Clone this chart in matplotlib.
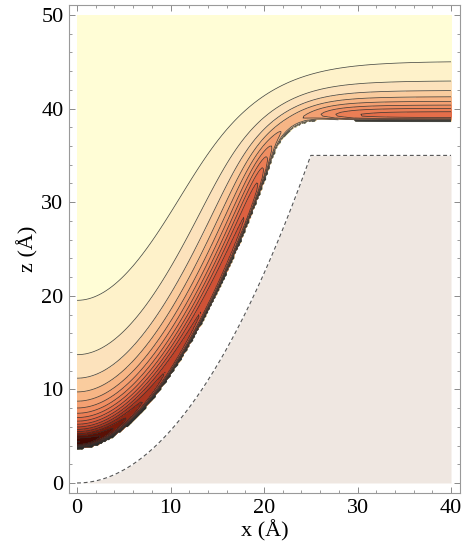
import numpy as np
import matplotlib
matplotlib.use("Agg")
import matplotlib.pyplot as plt
from matplotlib.colors import LinearSegmentedColormap, ListedColormap, BoundaryNorm
from matplotlib.ticker import MultipleLocator

plt.rcParams.update({
    "font.family": "Liberation Serif",
    "font.size": 16,
    "figure.facecolor": "white",
})

# geometry: parabolic pit (axisymmetric about x = 0)
PIT_RADIUS = 25.0            # Å, where the parabola meets the rim
PIT_DEPTH = 35.0             # Å, rim height above the pit bottom
SIGMA = 5.0                  # Å, Lennard-Jones length of the probe
RIM_FIRST_CONTOUR = (40.0, 45.1)   # outermost contour where it leaves the plot at x = 40

X_RANGE = (0.0, 40.0)
Z_RANGE = (0.0, 50.0)
X_TICKS = [0, 10, 20, 30, 40]
Z_TICKS = [0, 10, 20, 30, 40, 50]

# band colours, deepest band first
BAND_COLORS = ["#2e0400", "#420802", "#5a1005", "#761b0b", "#922815",
               "#aa3620", "#bf442b", "#cf5236", "#dc6040", "#e56e4a",
               "#eb7e55", "#f08e62", "#f4a072", "#f7b585", "#facc9e",
               "#fce2bc", "#fef2ca", "#fffdd6"]
SOLID_COLOR = "#efe7e1"


def surface(x):
    x = np.abs(x)
    return np.where(x < PIT_RADIUS, PIT_DEPTH * (x / PIT_RADIUS) ** 2, PIT_DEPTH)


def surface_slope(x):
    return np.where(x < PIT_RADIUS, 2 * PIT_DEPTH * x / PIT_RADIUS ** 2, 0.0)


# ── LJ 12-6 energy of a probe above the solid, via surface integrals ─────────
rp = np.concatenate([np.arange(0, 1400) * 0.05, 70 * np.geomspace(1, 30, 120)[1:]])
w = np.zeros_like(rp)
w[:-1] += np.diff(rp) / 2
w[1:] += np.diff(rp) / 2
s_rp, sl_rp = surface(rp), surface_slope(rp)

px = np.linspace(X_RANGE[0], X_RANGE[1], 201)
pz = np.linspace(Z_RANGE[0], Z_RANGE[1], 251)
F = np.empty((pz.size, px.size))
dist = np.empty_like(F)
r = px[:, None]
with np.errstate(all="ignore"):
    for i, z in enumerate(pz):
        h = s_rp - z
        D = ((r - rp) ** 2 + h ** 2) * ((r + rp) ** 2 + h ** 2)
        sD = np.sqrt(D)
        t = (r ** 2 + rp ** 2 + h ** 2) / sD
        B = 2 * r * rp
        base = h - sl_rp * rp
        j03 = np.pi * (3 * t ** 2 - 1) / (D * sD)
        j13 = 3 * np.pi * t * B / D ** 2
        j06 = np.pi / 4 * (63 * t ** 5 - 70 * t ** 3 + 15 * t) / D ** 3
        j16 = np.pi * B * (63 * t ** 4 - 42 * t ** 2 + 3) / (4 * D ** 3 * sD)
        i6 = -(w * rp * (base * j03 + sl_rp * r * j13)).sum(axis=1) / 3
        i12 = -(w * rp * (base * j06 + sl_rp * r * j16)).sum(axis=1) / 9
        F[i] = SIGMA ** 12 * i12 - SIGMA ** 6 * i6
        dist[i] = np.sqrt((r - rp) ** 2 + h ** 2).min(axis=1)

i_ref = np.argmin(np.abs(px - RIM_FIRST_CONTOUR[0]))
j_ref = np.argmin(np.abs(pz - RIM_FIRST_CONTOUR[1]))
F = F / -F[j_ref, i_ref]
bad = (dist < 2.5) | (pz[:, None] < surface(px)[None, :])
F[bad] = 1.0
n_lev = int(np.ceil(-F.min()))
Fm = np.ma.masked_where(F > 0, F)

levels = -np.arange(n_lev, -1, -1, dtype=float)
ramp = LinearSegmentedColormap.from_list("solar", BAND_COLORS)
cmap = ListedColormap(ramp(np.linspace(0, 1, n_lev)))
norm = BoundaryNorm(levels, n_lev)

fig = plt.figure(figsize=(4.68, 5.52), dpi=100)
ax = fig.add_axes([69 / 468, 59 / 552, 391 / 468, 488 / 552])

xx = np.linspace(X_RANGE[0], X_RANGE[1], 801)
ax.fill_between(xx, Z_RANGE[0], surface(xx), color=SOLID_COLOR, lw=0, zorder=1)
ax.plot(xx, surface(xx), color="#555555", lw=0.8, dashes=(3.5, 2.5), zorder=2)

ax.contourf(px, pz, Fm, levels=levels, cmap=cmap, norm=norm, zorder=1)
ax.contour(px, pz, Fm, levels=levels[:-1], colors="#2a2a2a", linestyles="solid",
           linewidths=0.55, alpha=0.85, zorder=3)

ax.set_xlim(-0.86, 40.96)
ax.set_ylim(-1.07, 51.07)
ax.set_xticks(X_TICKS)
ax.set_yticks(Z_TICKS)
ax.xaxis.set_minor_locator(MultipleLocator(2))
ax.yaxis.set_minor_locator(MultipleLocator(2))
ax.tick_params(which="both", direction="in", top=True, right=True,
               color="#8a8a8a", labelsize=16, pad=4)
ax.tick_params(which="major", length=4.5, width=0.7)
ax.tick_params(which="minor", length=2.5, width=0.6)
for sp in ax.spines.values():
    sp.set_color("#9a9a9a")
    sp.set_linewidth(0.8)

ax.set_xlabel("x (Å)", fontsize=16, labelpad=2)
ax.set_ylabel("z (Å)", fontsize=16, labelpad=2)

fig.savefig("out.png", dpi=100, facecolor="white")
